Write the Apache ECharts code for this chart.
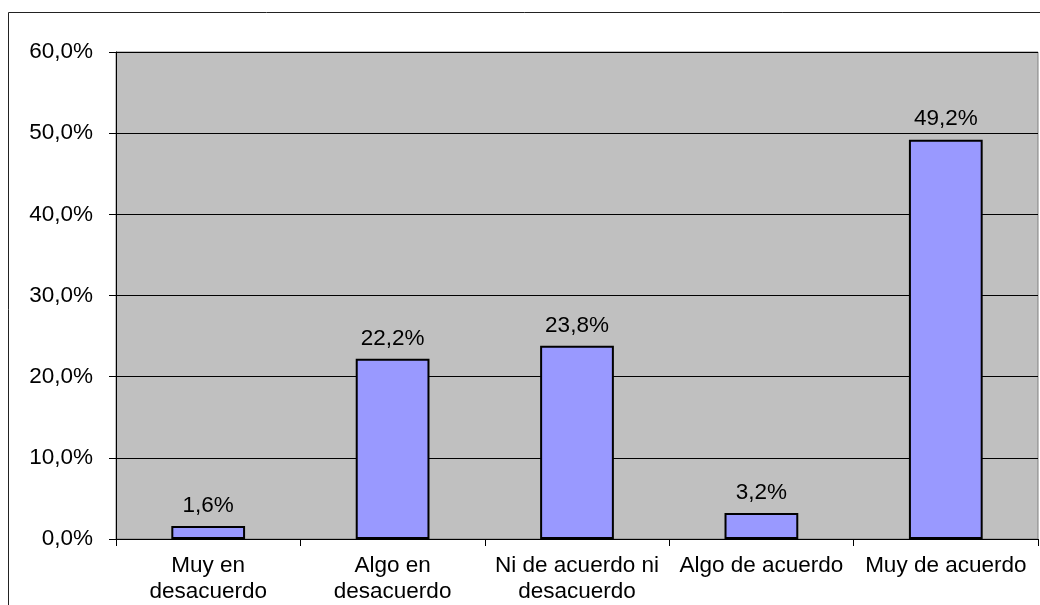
<!DOCTYPE html>
<html><head><meta charset="utf-8">
<script src="https://cdn.jsdelivr.net/npm/echarts@6/dist/echarts.min.js"></script>
<style>html,body{margin:0;padding:0;background:#fff}#c{width:1040px;height:605px}</style>
</head><body><div id="c"></div>
<script>
var categories = ["Muy en\ndesacuerdo", "Algo en\ndesacuerdo", "Ni de acuerdo ni\ndesacuerdo", "Algo de acuerdo", "Muy de acuerdo"];
var values = [1.6, 22.2, 23.8, 3.2, 49.2];
var yTicks = [0, 10, 20, 30, 40, 50, 60];

function fmt(v){ return v.toFixed(1).replace('.', ',') + '%'; }

var chart = echarts.init(document.getElementById('c'), null, {renderer:'canvas'});
chart.setOption({
  animation: false,
  backgroundColor: '#fff',
  textStyle: {fontFamily: 'Liberation Sans, Arial, sans-serif'},
  graphic: [{
    type: 'rect', z: 100, silent: true,
    shape: {x: 8.5, y: 12.5, width: 1200, height: 800},
    style: {fill: 'none', stroke: '#222', lineWidth: 1}
  }],
  grid: {left: 116, right: 2, top: 52, bottom: 65, show: true,
         backgroundColor: '#C0C0C0', borderColor: '#808080', borderWidth: 1},
  xAxis: {
    type: 'category', data: categories,
    axisLine: {show: true, lineStyle: {color: '#000', width: 1}},
    axisTick: {show: true, length: 7, lineStyle: {color: '#000'}},
    axisLabel: {color: '#000', fontSize: 22.5, lineHeight: 26, margin: 14, interval: 0,
                fontFamily: 'Liberation Sans, Arial, sans-serif'}
  },
  yAxis: {
    type: 'value', min: yTicks[0], max: yTicks[yTicks.length-1], interval: 10,
    axisLine: {show: true, lineStyle: {color: '#000', width: 1}},
    axisTick: {show: true, length: 7, lineStyle: {color: '#000'}},
    splitLine: {show: true, lineStyle: {color: '#000', width: 1}},
    axisLabel: {color: '#000', fontSize: 22.5, margin: 23, formatter: function(v){ return fmt(v); },
                fontFamily: 'Liberation Sans, Arial, sans-serif'}
  },
  series: [{
    type: 'bar', data: values, barWidth: '40%',
    itemStyle: {color: '#9999FF', borderColor: '#000', borderWidth: 2},
    label: {show: true, position: 'top', distance: 9, color: '#000', fontSize: 22.5,
            fontFamily: 'Liberation Sans, Arial, sans-serif',
            formatter: function(p){ return fmt(p.value); }}
  }]
});
</script>
</body></html>
